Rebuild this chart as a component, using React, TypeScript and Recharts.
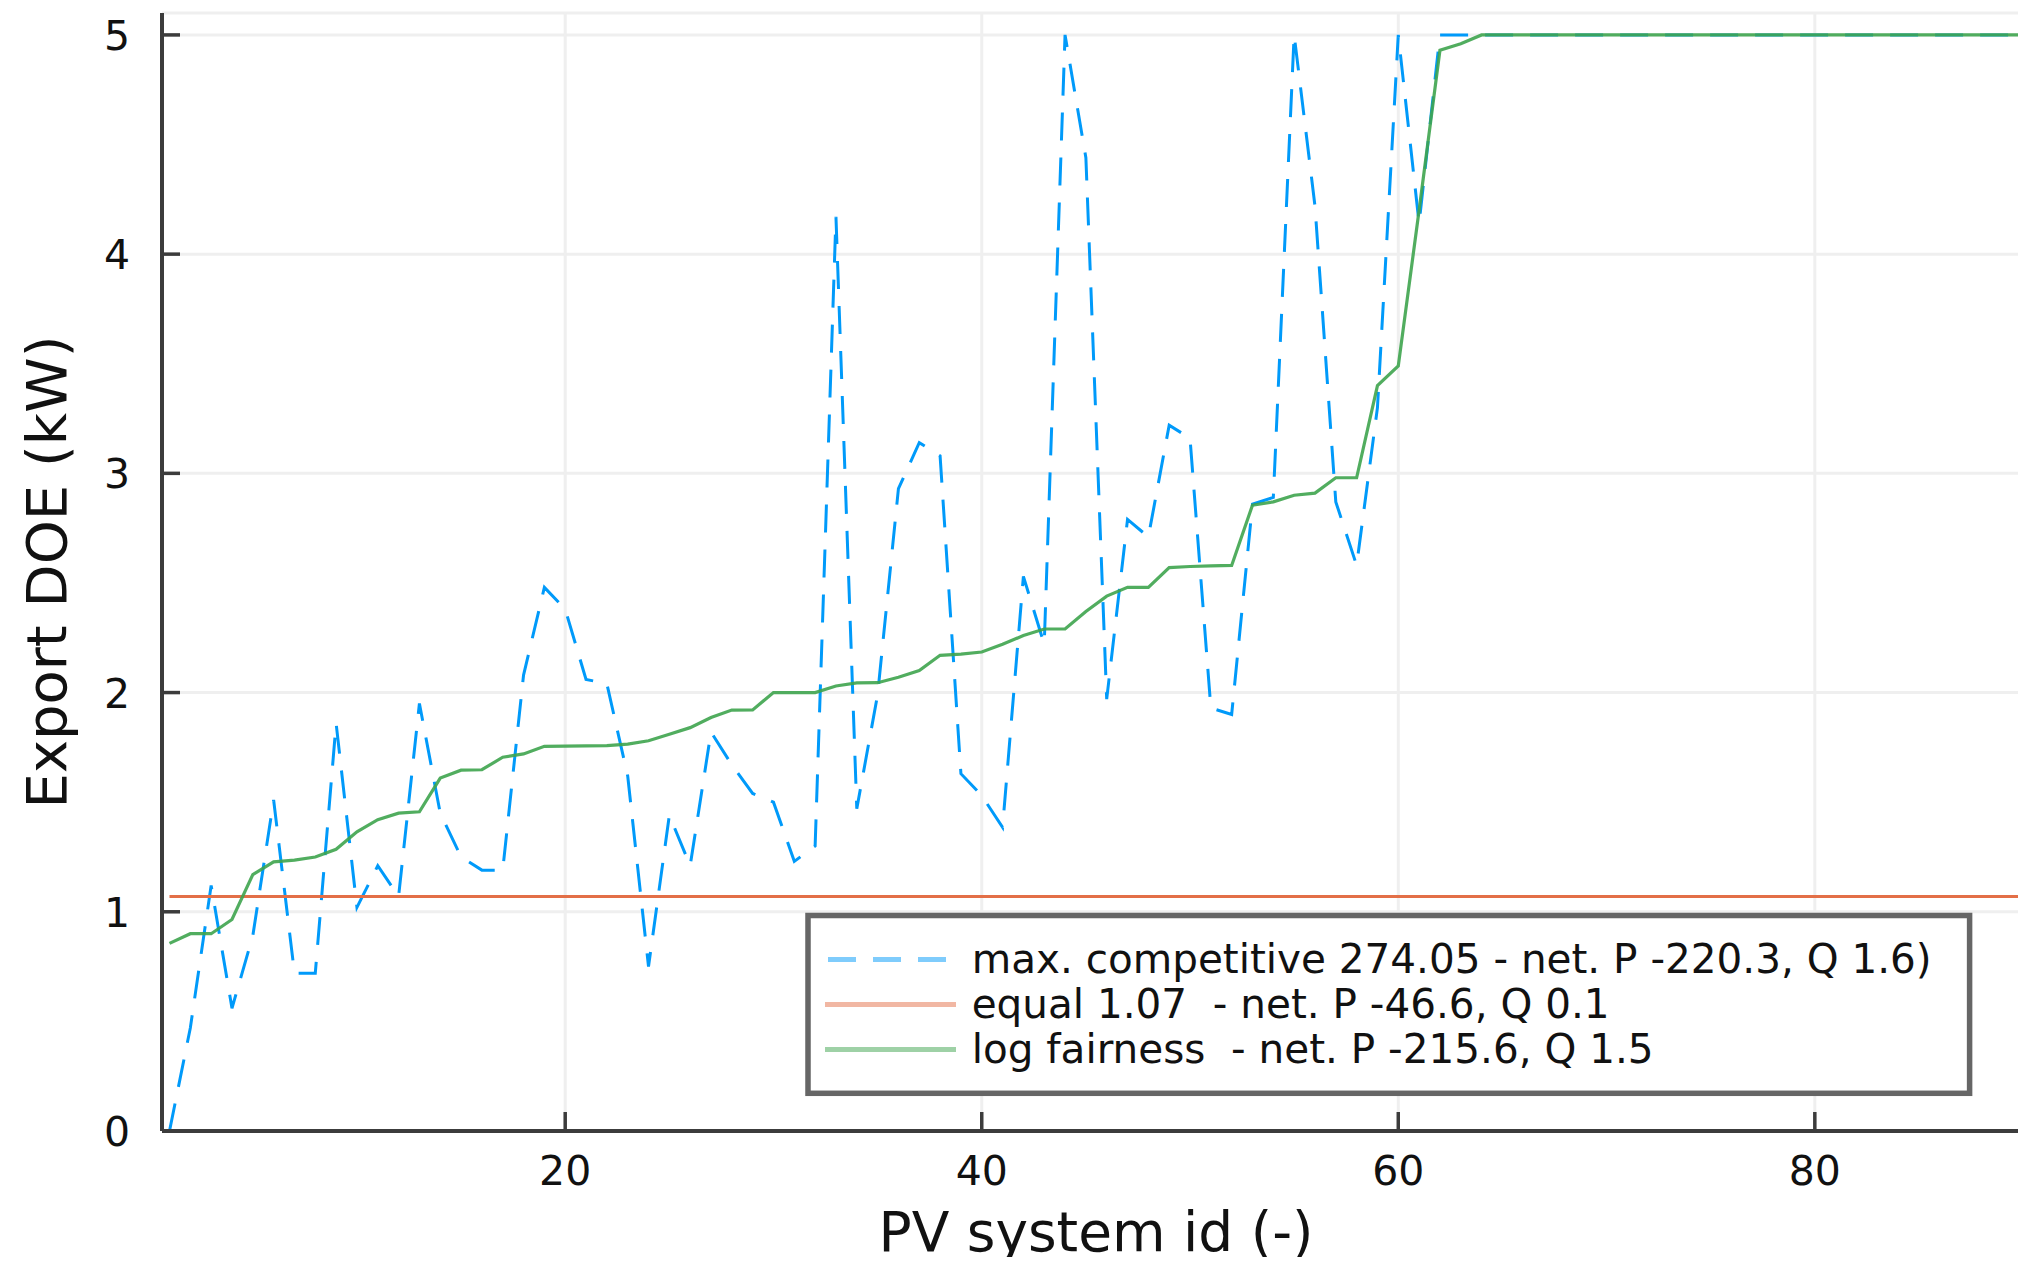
import React from 'react';
import { LineChart, Line, XAxis, YAxis, CartesianGrid } from 'recharts';

// ---------- data ----------
const pvIds = [
  1, 2, 3, 4, 5, 6, 7, 8, 9, 10,
  11, 12, 13, 14, 15, 16, 17, 18, 19, 20,
  21, 22, 23, 24, 25, 26, 27, 28, 29, 30,
  31, 32, 33, 34, 35, 36, 37, 38, 39, 40,
  41, 42, 43, 44, 45, 46, 47, 48, 49, 50,
  51, 52, 53, 54, 55, 56, 57, 58, 59, 60,
  61, 62, 63, 64, 65, 66, 67, 68, 69, 70,
  71, 72, 73, 74, 75, 76, 77, 78, 79, 80,
  81, 82, 83, 84, 85, 86, 87, 88, 89, 90,
];

const maxCompetitive = [
  0, 0.47, 1.12, 0.56, 0.89, 1.51, 0.72, 0.72, 1.86, 1.02,
  1.21, 1.07, 1.95, 1.45, 1.25, 1.19, 1.19, 2.08, 2.48, 2.38,
  2.06, 2.04, 1.62, 0.75, 1.44, 1.21, 1.82, 1.67, 1.54, 1.5,
  1.23, 1.3, 4.17, 1.47, 1.99, 2.93, 3.14, 3.08, 1.63, 1.53,
  1.385, 2.53, 2.22, 5, 4.44, 1.97, 2.79, 2.71, 3.22, 3.16,
  1.93, 1.9, 2.86, 2.89, 5, 4.22, 2.87, 2.58, 3.3, 5,
  4.14, 5, 5, 5, 5, 5, 5, 5, 5, 5,
  5, 5, 5, 5, 5, 5, 5, 5, 5, 5,
  5, 5, 5, 5, 5, 5, 5, 5, 5, 5,
];

const logFairness = [
  0.856, 0.9, 0.9, 0.965, 1.17, 1.228, 1.236, 1.25, 1.285, 1.365,
  1.42, 1.45, 1.456, 1.61, 1.646, 1.648, 1.705, 1.72, 1.755, 1.756,
  1.757, 1.758, 1.765, 1.78, 1.81, 1.84, 1.886, 1.92, 1.921, 2.0,
  2.0, 2.0, 2.03, 2.044, 2.045, 2.07, 2.1, 2.17, 2.175, 2.185,
  2.22, 2.26, 2.29, 2.29, 2.37, 2.44, 2.48, 2.48, 2.57, 2.575,
  2.578, 2.58, 2.855, 2.87, 2.9, 2.91, 2.98, 2.98, 3.4, 3.49,
  4.2, 4.93, 4.96, 5, 5, 5, 5, 5, 5, 5,
  5, 5, 5, 5, 5, 5, 5, 5, 5, 5,
  5, 5, 5, 5, 5, 5, 5, 5, 5, 5,
];

const equalShare = 1.07;

const xTicks = [20, 40, 60, 80];
const yTicks = [0, 1, 2, 3, 4, 5];

const xLabel = 'PV system id (-)';
const yLabel = 'Export DOE (kW)';

const legendLabels = [
  'max. competitive 274.05 - net. P -220.3, Q 1.6)',
  'equal 1.07  - net. P -46.6, Q 0.1',
  'log fairness  - net. P -215.6, Q 1.5',
];

const data = pvIds.map((id, i) => ({
  id,
  competitive: maxCompetitive[i],
  equal: equalShare,
  logFair: logFairness[i],
}));

// ---------- styling ----------
const FONT = '"DejaVu Sans", Verdana, sans-serif';
const BLUE = '#009AFA';
const RED = '#E36F47';
const GREEN = '#3EA44E';
const AXIS = '#3c3c3c';
const W = 2026;
const H = 1265;
const PLOT_LEFT = 162;
const PLOT_TOP = 13;
const X_AXIS_H = 134;
const PLOT_BOTTOM = H - X_AXIS_H;

const legendSeries = [
  { color: BLUE, dash: '28 17', x1: 828, x2: 946 },
  { color: RED, dash: undefined, x1: 825, x2: 956 },
  { color: GREEN, dash: undefined, x1: 825, x2: 956 },
];

function XTick(props: any) {
  const { x, payload } = props;
  return (
    <g>
      <line x1={x} x2={x} y1={PLOT_BOTTOM} y2={PLOT_BOTTOM - 19} stroke={AXIS} strokeWidth={3.5} />
      <text x={x} y={1185} textAnchor="middle" fontFamily={FONT} fontSize={41} fill="#111">
        {payload.value}
      </text>
    </g>
  );
}

function YTick(props: any) {
  const { y, payload } = props;
  return (
    <g>
      <line x1={PLOT_LEFT} x2={PLOT_LEFT + 18} y1={y} y2={y} stroke={AXIS} strokeWidth={3.5} />
      <text x={130} y={y + 15} textAnchor="end" fontFamily={FONT} fontSize={41} fill="#111">
        {payload.value}
      </text>
    </g>
  );
}

export default function App() {
  return (
    <div
      style={{
        position: 'relative',
        width: W,
        height: H,
        margin: -8,
        overflow: 'hidden',
        background: '#fff',
      }}
    >
      <LineChart
        width={W}
        height={H}
        data={data}
        margin={{ top: PLOT_TOP, right: 0, bottom: 0, left: 0 }}
      >
        <CartesianGrid stroke="#efefef" strokeWidth={3} />
        <XAxis
          type="number"
          dataKey="id"
          domain={[0.64, 90.14]}
          ticks={xTicks}
          interval={0}
          allowDataOverflow
          height={X_AXIS_H}
          tickLine={false}
          axisLine={{ stroke: AXIS, strokeWidth: 4 }}
          tick={<XTick />}
        />
        <YAxis
          type="number"
          domain={[0, 5.1]}
          ticks={yTicks}
          interval={0}
          allowDataOverflow
          width={PLOT_LEFT}
          tickLine={false}
          axisLine={{ stroke: AXIS, strokeWidth: 4 }}
          tick={<YTick />}
        />
        <Line
          type="linear"
          dataKey="competitive"
          stroke={BLUE}
          strokeWidth={3}
          strokeDasharray="28 17"
          dot={false}
          activeDot={false}
          isAnimationActive={false}
        />
        <Line
          type="linear"
          dataKey="equal"
          stroke={RED}
          strokeWidth={3}
          dot={false}
          activeDot={false}
          isAnimationActive={false}
        />
        <Line
          type="linear"
          dataKey="logFair"
          stroke={GREEN}
          strokeWidth={3.2}
          strokeOpacity={0.9}
          dot={false}
          activeDot={false}
          isAnimationActive={false}
        />
      </LineChart>
      <svg
        width={W}
        height={H}
        style={{ position: 'absolute', left: 0, top: 0, pointerEvents: 'none' }}
      >
        <rect x={808} y={915.5} width={1161.6} height={177.8} fill="#fff" stroke="#666" strokeWidth={5.5} />
        {legendLabels.map((label, k) => {
          const s = legendSeries[k];
          const cy = 959.4 + k * 45;
          return (
            <g key={label}>
              <line
                x1={s.x1}
                x2={s.x2}
                y1={cy}
                y2={cy}
                stroke={s.color}
                strokeOpacity={0.5}
                strokeWidth={5}
                strokeDasharray={s.dash}
              />
              <text
                x={971.7}
                y={cy + 14}
                fontFamily={FONT}
                fontSize={40.5}
                fill="#111"
                style={{ whiteSpace: 'pre' }}
              >
                {label}
              </text>
            </g>
          );
        })}
        <text x={1096} y={1251} textAnchor="middle" fontFamily={FONT} fontSize={55} fill="#111">
          {xLabel}
        </text>
        <text
          transform={`translate(66, ${(PLOT_TOP + PLOT_BOTTOM) / 2}) rotate(-90)`}
          textAnchor="middle"
          fontFamily={FONT}
          fontSize={56}
          fill="#111"
        >
          {yLabel}
        </text>
      </svg>
    </div>
  );
}
